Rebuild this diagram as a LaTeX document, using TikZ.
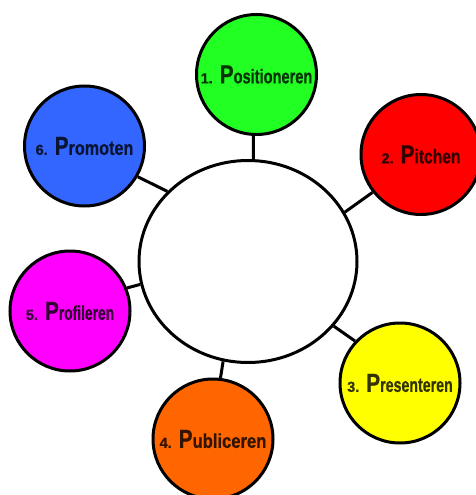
\documentclass[tikz,border=0pt]{standalone}
\usepackage{graphicx}
\usepackage{fontspec}
\setmainfont{Liberation Sans}[BoldFont={Liberation Sans Bold},BoldFeatures={FakeBold=0.6}]
\usetikzlibrary{shapes.geometric}
\definecolor{cgreen}{HTML}{22FF22}
\definecolor{cred}{HTML}{FF0000}
\definecolor{cyellow}{HTML}{FFFF00}
\definecolor{corange}{HTML}{FF6600}
\definecolor{cmagenta}{HTML}{FF00FF}
\definecolor{cblue}{HTML}{3366FF}
\tikzset{
  pcirc/.style={circle, draw=black, line width=3pt, minimum size=120pt, inner sep=0pt,
    fill=#1, text=#1!20!black},
  hub/.style={ellipse, draw=black, line width=3pt, minimum width=218pt, minimum height=202pt,
    inner sep=0pt, fill=white},
  link/.style={draw=black, line width=3pt},
}
\newcommand{\plabel}[3]{\bfseries\fontsize{14.5}{15}\selectfont #1\hspace{7pt}\scalebox{0.8}[1]{\fontsize{26}{26}\selectfont P}\scalebox{#3}[1]{\fontsize{20}{20}\selectfont #2}}
\begin{document}
\begin{tikzpicture}[x=1pt,y=-1pt]
\useasboundingbox[fill=white] (0,0) rectangle (475,495);
\node[hub] (c) at (248,261.5) {};
\node[pcirc=cgreen] (p1) at (256.5,74.5) {\plabel{1.}{ositioneren}{0.73}};
\node[pcirc=cred] (p2) at (421,154.5) {\plabel{2.}{itchen}{0.78}};
\node[pcirc=cyellow] (p3) at (400,383) {\plabel{3.}{resenteren}{0.71}};
\node[pcirc=corange] (p4) at (213,439) {\plabel{4.}{ubliceren}{0.83}};
\node[pcirc=cmagenta] (p5) at (70,311) {\plabel{5.}{rofileren}{0.69}};
\node[pcirc=cblue] (p6) at (84.5,146) {\plabel{6.}{romoten}{0.81}};
\draw[link] (p1.-93) -- (c.87);
\draw[link] (p2.218) -- (c.27);
\draw[link] (p3.137) -- (c.-37);
\draw[link] (p4.83) -- (c.-104);
\draw[link] (p5.22) -- (c.192);
\draw[link] (p6.-30) -- (c.139);
\end{tikzpicture}
\end{document}
